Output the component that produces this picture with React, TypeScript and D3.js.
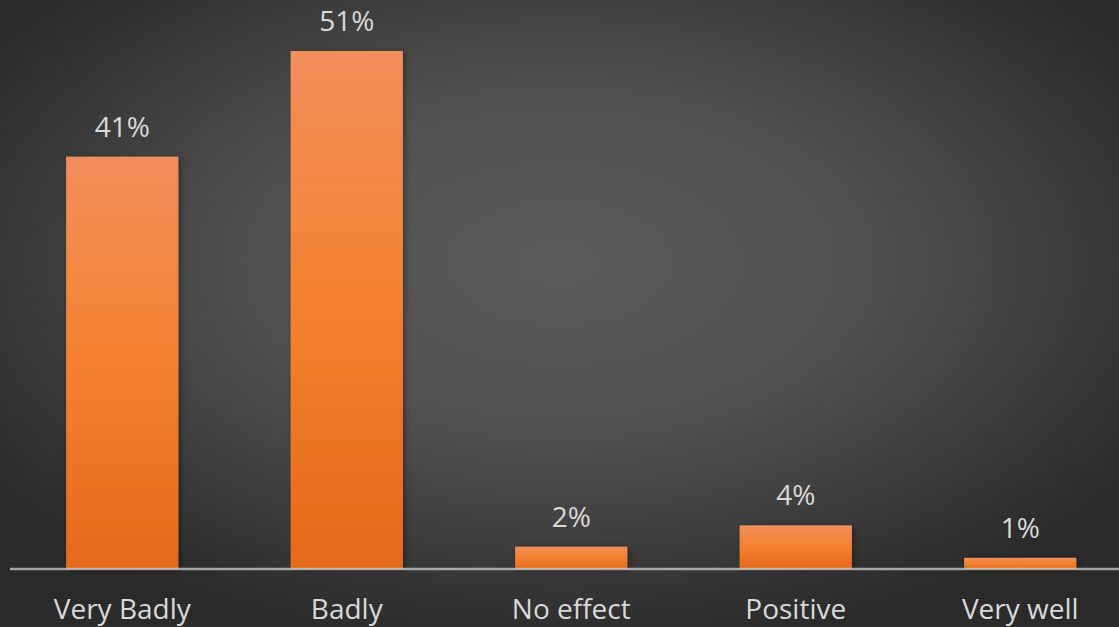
import React, { useEffect } from "react";
import * as d3 from "d3";

const categories = ["Very Badly", "Badly", "No effect", "Positive", "Very well"];
const values = [40.6, 51.0, 2.2, 4.3, 1.1];

const W = 1119;
const H = 627;

export default function App() {
  useEffect(() => {
    document.body.style.margin = "0";
  }, []);

  const x = d3.scaleBand<string>().domain(categories).range([10, 1132.5]).paddingInner(0.5).paddingOuter(0.25);
  const y = d3.scaleLinear().domain([0, 51]).range([569, 51]);
  const fmt = (v: number) => `${Math.round(v)}%`;
  const font = "'Open Sans', 'Noto Sans', sans-serif";

  return (
    <svg width={W} height={H} style={{ display: "block", position: "absolute", left: 0, top: 0 }}>
      <defs>
        <radialGradient id="bg" cx="0.5" cy="0.42" r="0.62" gradientUnits="objectBoundingBox">
          <stop offset="0" stopColor="#5a5a5a" />
          <stop offset="0.45" stopColor="#505050" />
          <stop offset="1" stopColor="#2a2a2a" />
        </radialGradient>
        <linearGradient id="bar" x1="0" y1="0" x2="0" y2="1">
          <stop offset="0" stopColor="#f18e5b" />
          <stop offset="0.5" stopColor="#f4812f" />
          <stop offset="1" stopColor="#e5691a" />
        </linearGradient>
        <filter id="shadow" x="-20%" y="-20%" width="140%" height="140%">
          <feDropShadow dx="2" dy="1" stdDeviation="3" floodColor="#000" floodOpacity="0.35" />
        </filter>
      </defs>
      <rect x={0} y={0} width={W} height={H} fill="url(#bg)" />
      {categories.map((c, i) => {
        const x0 = x(c)!;
        const bw = x.bandwidth();
        const top = y(values[i]);
        return (
          <g key={c}>
            <rect x={x0} y={top} width={bw} height={y(0) - top} fill="url(#bar)" filter="url(#shadow)" />
            <text
              x={x0 + bw / 2}
              y={top - 20}
              textAnchor="middle"
              fill="#d9d9d9"
              fontFamily={font}
              fontSize={28}
            >
              {fmt(values[i])}
            </text>
            <text
              x={x0 + bw / 2}
              y={619}
              textAnchor="middle"
              fill="#d9d9d9"
              fontFamily={font}
              fontSize={28}
            >
              {c}
            </text>
          </g>
        );
      })}
      <line x1={10} x2={W} y1={y(0)} y2={y(0)} stroke="#d9d9d9" strokeOpacity={0.7} strokeWidth={2.5} />
    </svg>
  );
}
